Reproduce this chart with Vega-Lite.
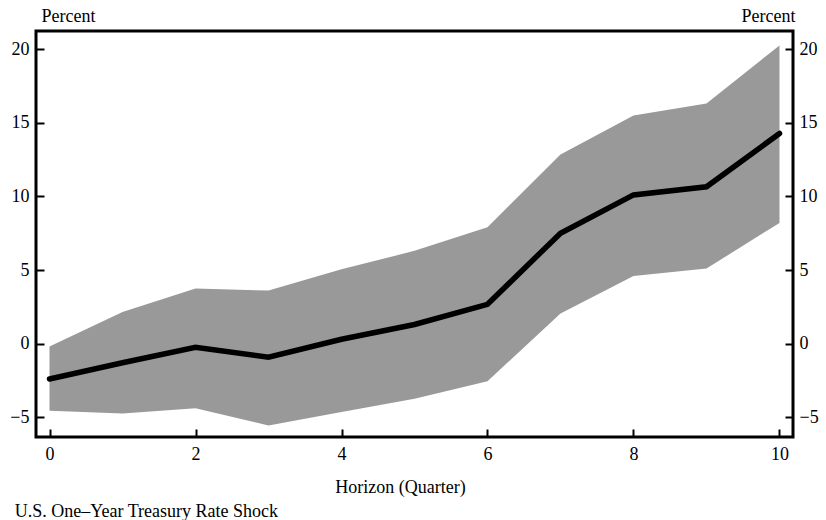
{
  "$schema": "https://vega.github.io/schema/vega-lite/v6.json",
  "autosize": {"type": "none"},
  "padding": {"left": 36, "top": 31, "right": 33, "bottom": 83},
  "width": 757,
  "height": 406,
  "background": "white",
  "config": {
    "view": {"stroke": "black", "strokeWidth": 3},
    "font": "Liberation Serif",
    "axis": {
      "domain": false,
      "grid": false,
      "ticks": true,
      "tickColor": "black",
      "tickWidth": 2,
      "tickSize": -8,
      "labelFont": "Liberation Serif",
      "labelFontSize": 18,
      "labelColor": "black",
      "titleFont": "Liberation Serif",
      "titleFontSize": 18,
      "titleFontWeight": "normal",
      "titleColor": "black"
    }
  },
  "title": {
    "text": "U.S. One–Year Treasury Rate Shock",
    "orient": "bottom",
    "anchor": "start",
    "font": "Liberation Serif",
    "fontSize": 18,
    "fontWeight": "normal",
    "color": "black",
    "dx": 5,
    "offset": 7
  },
  "data": {
    "values": [
      {"h": 0, "mid": -2.4, "lo": -4.55, "hi": -0.2},
      {"h": 1, "mid": -1.3, "lo": -4.75, "hi": 2.15},
      {"h": 2, "mid": -0.25, "lo": -4.39, "hi": 3.75},
      {"h": 3, "mid": -0.92, "lo": -5.56, "hi": 3.6},
      {"h": 4, "mid": 0.3, "lo": -4.65, "hi": 5.05},
      {"h": 5, "mid": 1.3, "lo": -3.75, "hi": 6.3},
      {"h": 6, "mid": 2.67, "lo": -2.55, "hi": 7.9},
      {"h": 7, "mid": 7.5, "lo": 2.05, "hi": 12.85},
      {"h": 8, "mid": 10.1, "lo": 4.6, "hi": 15.5},
      {"h": 9, "mid": 10.65, "lo": 5.1, "hi": 16.3},
      {"h": 10, "mid": 14.27, "lo": 8.2, "hi": 20.25}
    ]
  },
  "encoding": {
    "x": {
      "field": "h",
      "type": "quantitative",
      "scale": {"domain": [-0.185, 10.185], "nice": false, "zero": false},
      "axis": {
        "values": [0, 2, 4, 6, 8, 10],
        "labelPadding": 16,
        "title": "Horizon (Quarter)",
        "titleX": 364,
        "titleY": 55,
        "titleBaseline": "alphabetic",
        "titleAnchor": null
      }
    }
  },
  "layer": [
    {
      "mark": {"type": "area", "color": "#999999", "opacity": 1},
      "encoding": {
        "y": {
          "field": "lo",
          "type": "quantitative",
          "scale": {"domain": [-6.34, 21.23], "nice": false, "zero": false},
          "axis": {
            "orient": "left",
            "values": [-5, 0, 5, 10, 15, 20],
            "labelPadding": 15,
            "title": "Percent",
            "titleAngle": 0,
            "titleAlign": "left",
            "titleBaseline": "alphabetic",
            "titleX": 5,
            "titleY": -10
          }
        },
        "y2": {"field": "hi"}
      }
    },
    {
      "mark": {"type": "rule", "color": "black", "strokeWidth": 1},
      "encoding": {
        "y": {"datum": 0, "type": "quantitative", "axis": null}
      }
    },
    {
      "mark": {"type": "line", "color": "black", "strokeWidth": 5.5, "strokeCap": "round", "strokeJoin": "miter"},
      "encoding": {
        "y": {
          "field": "mid",
          "type": "quantitative",
          "axis": {
            "orient": "right",
            "values": [-5, 0, 5, 10, 15, 20],
            "labelPadding": 14,
            "title": "Percent",
            "titleAngle": 0,
            "titleAlign": "right",
            "titleBaseline": "alphabetic",
            "titleX": 2,
            "titleY": -10
          }
        }
      }
    }
  ],
  "resolve": {"axis": {"y": "independent"}}
}
